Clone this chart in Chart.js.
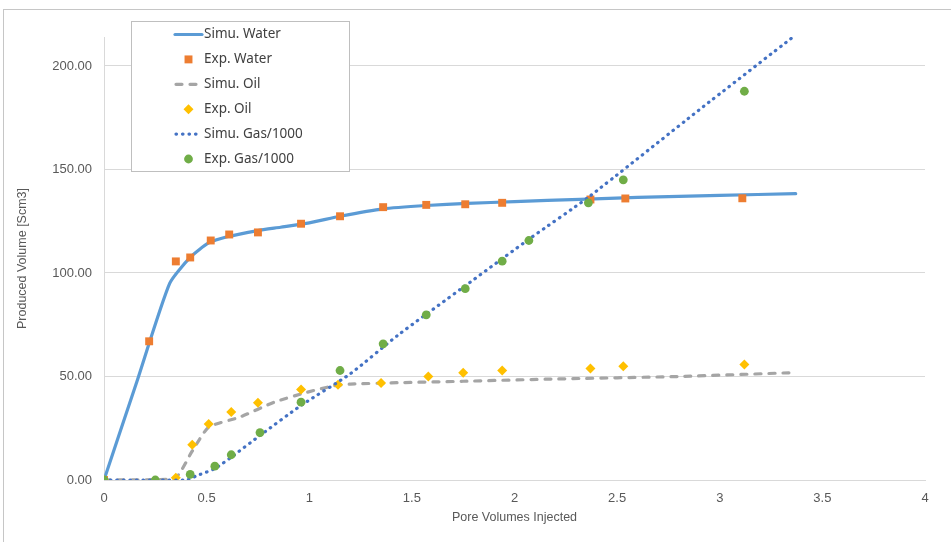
<!DOCTYPE html>
<html>
<head>
<meta charset="utf-8">
<script src="https://cdn.jsdelivr.net/npm/chart.js@4.4.1/dist/chart.umd.min.js"></script>
<style>
  html, body { margin: 0; padding: 0; background: #fff; overflow: hidden; }
  #wrap { position: relative; width: 951px; height: 542px; }
  #frame { position: absolute; left: 3px; top: 9px; width: 1000px; height: 600px;
           border: 1px solid #c6c6c6; box-sizing: border-box; }
  #c { position: absolute; left: 0; top: 0; }
</style>
</head>
<body>
<div id="wrap">
  <div id="frame"></div>
  <canvas id="c" width="951" height="542"></canvas>
</div>
<script>
// Simulated water production
const simWaterPV = [0, 0.16, 0.32, 0.42, 0.51, 0.60, 0.75, 0.86, 1.00, 1.15, 1.36, 1.57, 1.77, 2.00, 2.32, 2.60, 3.00, 3.37];
const simWater   = [0, 47.5, 95.0, 107.5, 114.5, 117.5, 120.5, 122.1, 124.2, 127.4, 131.0, 132.6, 133.6, 134.5, 135.6, 136.5, 137.5, 138.3];

// Measured water production
const expWaterPV = [0, 0.22, 0.35, 0.42, 0.52, 0.61, 0.75, 0.96, 1.15, 1.36, 1.57, 1.76, 1.94, 2.37, 2.54, 3.11];
const expWater   = [0, 67.0, 105.6, 107.5, 115.7, 118.6, 119.6, 123.8, 127.4, 131.8, 132.9, 133.2, 133.9, 135.5, 136.0, 136.1];

// Simulated oil production
const simOilPV = [0, 0.34, 0.43, 0.51, 0.66, 0.83, 0.99, 1.12, 1.20, 1.43, 1.75, 2.20, 2.80, 3.37];
const simOil   = [0, 0.5, 14.0, 25.5, 30.3, 37.6, 42.4, 45.5, 46.3, 47.0, 47.7, 48.8, 50.0, 51.9];

// Measured oil production
const expOilPV = [0, 0.35, 0.43, 0.51, 0.62, 0.75, 0.96, 1.14, 1.35, 1.58, 1.75, 1.94, 2.37, 2.53, 3.12];
const expOil   = [0, 1.1, 17.0, 27.1, 32.8, 37.3, 43.7, 46.0, 46.8, 50.0, 51.8, 52.9, 53.9, 55.0, 55.8];

// Simulated gas production (divided by 1000)
const simGasPV = [0, 0.40, 0.45, 0.54, 0.62, 0.76, 0.96, 1.20, 1.43, 1.75, 2.08, 2.36, 2.90, 3.37];
const simGas   = [0, 0, 2.0, 5.5, 11.0, 21.5, 36.0, 51.3, 69.8, 93.1, 117.0, 136.6, 178.8, 215.0];

// Measured gas production (divided by 1000)
const expGasPV = [0, 0.25, 0.42, 0.54, 0.62, 0.76, 0.96, 1.15, 1.36, 1.57, 1.76, 1.94, 2.07, 2.36, 2.53, 3.12];
const expGas   = [0, 0, 2.7, 6.7, 12.2, 22.9, 37.6, 52.9, 65.8, 79.8, 92.4, 105.7, 115.7, 133.9, 145.0, 187.8];

const xTickStep = 0.5;
const yTickStep = 50;

const pts = (xs, ys) => xs.map((x, i) => ({ x: x, y: ys[i] }));

const FONT = "'Liberation Sans', Arial, sans-serif";
const TEXT = '#595959';

// Boxed legend drawn inside the plot, upper-left
const boxLegend = {
  id: 'boxLegend',
  afterDraw(chart) {
    const ctx = chart.ctx;
    const L = 131.5, T = 21.5, W = 218, H = 150;
    ctx.save();
    ctx.fillStyle = '#ffffff';
    ctx.fillRect(L, T, W, H);
    ctx.strokeStyle = '#bfbfbf';
    ctx.lineWidth = 1;
    ctx.strokeRect(L, T, W, H);
    chart.data.datasets.forEach((ds, i) => {
      const y = 34.5 + i * 24.9;
      if (ds.showLine) {
        ctx.save();
        ctx.strokeStyle = ds.borderColor;
        ctx.lineWidth = ds.borderWidth;
        ctx.lineCap = ds.borderCapStyle || 'butt';
        ctx.setLineDash(ds.borderDash || []);
        ctx.beginPath();
        ctx.moveTo(ds.borderDash ? 176 : 175, y);
        ctx.lineTo(202, y);
        ctx.stroke();
        ctx.restore();
      } else {
        ctx.save();
        ctx.fillStyle = ds.backgroundColor;
        Chart.helpers.drawPoint(ctx, { pointStyle: ds.pointStyle, radius: ds.pointRadius, borderWidth: 0, rotation: 0 }, 188.5, y);
        ctx.restore();
      }
      ctx.fillStyle = '#404040';
      ctx.font = "13.5px 'Noto Sans', sans-serif";
      ctx.textBaseline = 'middle';
      ctx.textAlign = 'left';
      ctx.fillText(ds.label, 204, y);
    });
    ctx.restore();
  }
};

new Chart(document.getElementById('c'), {
  type: 'scatter',
  data: {
    datasets: [
      { label: 'Simu. Water', data: pts(simWaterPV, simWater), showLine: true,
        borderColor: '#5B9BD5', backgroundColor: '#5B9BD5', borderWidth: 3.2,
        pointRadius: 0, tension: 0.2, borderCapStyle: 'round', borderJoinStyle: 'round', order: 5 },
      { label: 'Exp. Water', data: pts(expWaterPV, expWater), showLine: false,
        backgroundColor: '#ED7D31', borderColor: '#ED7D31', borderWidth: 0,
        pointStyle: 'rect', pointRadius: 5.6, order: 4 },
      { label: 'Simu. Oil', data: pts(simOilPV, simOil), showLine: true,
        borderColor: '#A5A5A5', backgroundColor: '#A5A5A5', borderWidth: 3.2,
        borderDash: [6, 8], borderCapStyle: 'round',
        pointRadius: 0, tension: 0.2, order: 3 },
      { label: 'Exp. Oil', data: pts(expOilPV, expOil), showLine: false,
        backgroundColor: '#FFC000', borderColor: '#FFC000', borderWidth: 0,
        pointStyle: 'rectRot', pointRadius: 5, order: 2 },
      { label: 'Simu. Gas/1000', data: pts(simGasPV, simGas), showLine: true,
        borderColor: '#4472C4', backgroundColor: '#4472C4', borderWidth: 3.2,
        borderDash: [0.5, 6], borderCapStyle: 'round',
        pointRadius: 0, tension: 0.2, order: 1 },
      { label: 'Exp. Gas/1000', data: pts(expGasPV, expGas), showLine: false,
        backgroundColor: '#70AD47', borderColor: '#70AD47', borderWidth: 0,
        pointStyle: 'circle', pointRadius: 4.4, order: 0 }
    ]
  },
  options: {
    responsive: false,
    animation: false,
    devicePixelRatio: 1,
    layout: { padding: { top: 37, right: 26, left: 0, bottom: 0 } },
    plugins: { legend: { display: false }, tooltip: { enabled: false } },
    elements: { point: { hoverRadius: 0 } },
    scales: {
      x: {
        type: 'linear', min: 0, max: 4,
        ticks: { stepSize: xTickStep, color: TEXT, padding: 11, font: { family: FONT, size: 13 },
                 callback: v => String(Math.round(v * 10) / 10) },
        grid: { display: false, drawTicks: false },
        border: { display: true, color: '#d9d9d9' },
        title: { display: true, text: 'Pore Volumes Injected', color: TEXT,
                 font: { family: FONT, size: 12.5 }, padding: { top: 0, bottom: 16.5 } },
        afterFit(scale) { scale.height = 62; }
      },
      y: {
        type: 'linear', min: 0, max: 214,
        ticks: { stepSize: yTickStep, includeBounds: false, color: TEXT, padding: 12,
                 font: { family: FONT, size: 13 }, callback: v => Number(v).toFixed(2) },
        grid: { color: '#d9d9d9', lineWidth: 1, drawTicks: false },
        border: { display: true, color: '#d9d9d9' },
        title: { display: true, text: 'Produced Volume [Scm3]', color: TEXT,
                 font: { family: FONT, size: 12.5 }, padding: { top: 15.5, bottom: 0 } },
        afterFit(scale) { scale.width = 104; }
      }
    }
  },
  plugins: [boxLegend]
});
</script>
</body>
</html>
